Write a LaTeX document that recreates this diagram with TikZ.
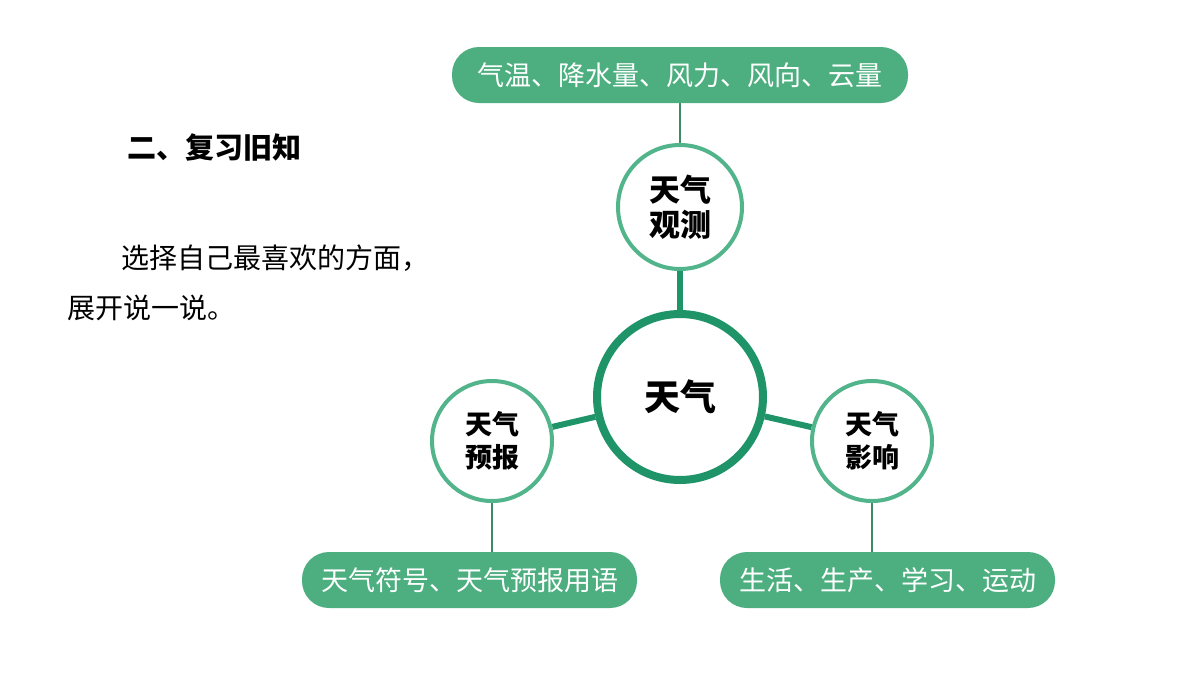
\documentclass[tikz,border=0pt]{standalone}
\usepackage{fontspec}
\usetikzlibrary{backgrounds}
\newfontfamily\cjk{Noto Sans CJK SC}
\definecolor{pillgreen}{HTML}{4DAF80}
\definecolor{ringgreen}{HTML}{52B48A}
\definecolor{darkgreen}{HTML}{1E9468}
\tikzset{
  pill/.style={draw=none,fill=pillgreen,rounded corners=27pt,minimum height=56pt,text=white,font=\cjk\fontsize{27}{30}\selectfont,inner sep=0pt},
  ring/.style={circle,draw=ringgreen,line width=4pt,fill=white,minimum size=120pt,inner sep=0pt,align=center,font=\cjk\bfseries\fontsize{27}{33}\selectfont},
  hub/.style={circle,draw=darkgreen,line width=8pt,fill=white,minimum size=166pt,inner sep=0pt,font=\cjk\bfseries\fontsize{36}{40}\selectfont},
  thinlink/.style={draw=pillgreen!80!black,line width=1.5pt},
  thicklink/.style={draw=darkgreen,line width=6pt}
}
\begin{document}
\begin{tikzpicture}[x=1pt,y=-1pt]
\useasboundingbox (0,0) rectangle (1200,675);
% pills
\node[pill,minimum width=456pt] (top) at (680,75) {气温、降水量、风力、风向、云量};
\node[pill,minimum width=335pt] (bl) at (469.5,580) {天气符号、天气预报用语};
\node[pill,minimum width=335pt] (br) at (887.5,580) {生活、生产、学习、运动};
% circles
\node[ring,minimum size=124pt,font=\cjk\bfseries\fontsize{31}{35}\selectfont] (obs) at (680,207) {天气\\观测};
\node[hub] (center) at (680,397) {天气};
\node[ring] (fc) at (492,441) {天气\\预报};
\node[ring] (inf) at (872,441) {天气\\影响};
% page background and links behind the circles
\begin{scope}[on background layer]
\fill[white] (0,0) rectangle (1200,675);
\draw[thinlink] (top.south -| obs.north) -- (obs.north);
\draw[thicklink] (obs.south) -- (center.north);
\draw[thicklink] (center) -- (fc);
\draw[thicklink] (center) -- (inf);
\draw[thinlink] (fc.south) -- (fc.south |- bl.north);
\draw[thinlink] (inf.south) -- (inf.south |- br.north);
\end{scope}
% left text
\node[anchor=west,font=\cjk\bfseries\fontsize{29}{32}\selectfont,inner sep=0pt] (title) at (127,148) {二、复习旧知};
\node[anchor=west,font=\cjk\fontsize{28}{32}\selectfont,inner sep=0pt] (line1) at (121,258) {选择自己最喜欢的方面，};
\node[anchor=west,font=\cjk\fontsize{28}{32}\selectfont,inner sep=0pt] (line2) at (67,308) {展开说一说。};
\end{tikzpicture}
\end{document}
